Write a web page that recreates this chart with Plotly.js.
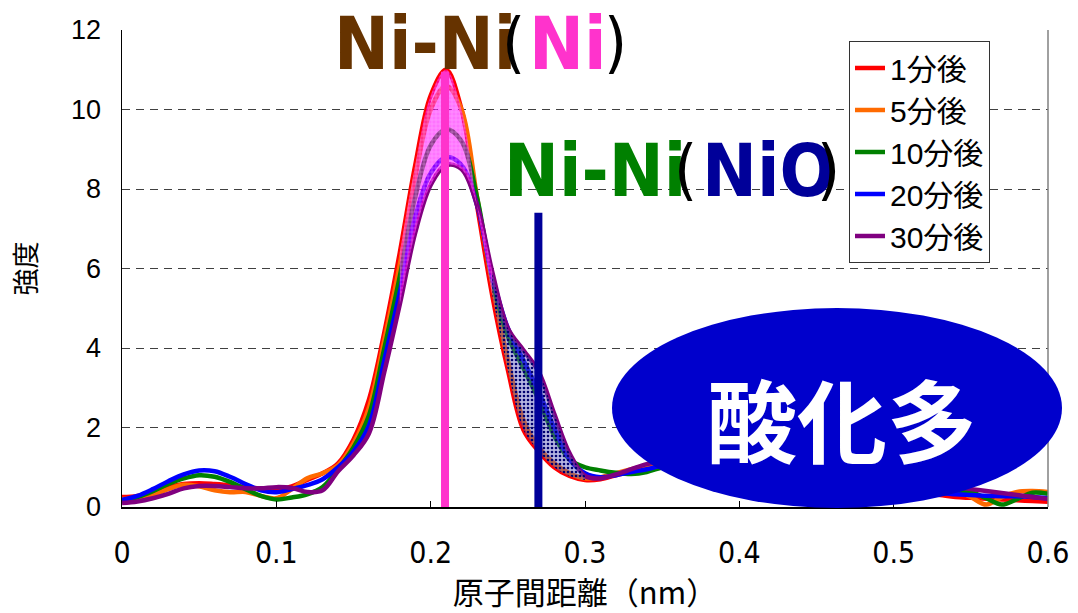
<!DOCTYPE html>
<html>
<head>
<meta charset="utf-8">
<script src="https://cdn.plot.ly/plotly-3.0.1.min.js"></script>
<style>html,body{margin:0;padding:0;background:#fff;}</style>
</head>
<body>
<div id="chart" style="width:1078px;height:613px;"></div>
<script>
// ---- data ----
const distance = [0, 0.01, 0.02, 0.03, 0.04, 0.05, 0.06, 0.07, 0.08, 0.09, 0.10, 0.11, 0.12, 0.13, 0.14, 0.15, 0.16, 0.17, 0.18, 0.19, 0.20, 0.21, 0.22, 0.23, 0.24, 0.25, 0.26, 0.27, 0.28, 0.29, 0.30, 0.31, 0.32, 0.33, 0.34, 0.35, 0.37, 0.39, 0.41, 0.43, 0.45, 0.47, 0.49, 0.51, 0.53, 0.54, 0.55, 0.56, 0.57, 0.58, 0.59, 0.60];
const min1  = [0.25, 0.28, 0.38, 0.50, 0.58, 0.60, 0.58, 0.55, 0.50, 0.46, 0.43, 0.52, 0.68, 0.85, 1.10, 1.70, 2.70, 4.40, 6.40, 8.60, 10.35, 11.0, 10.0, 7.6, 5.3, 3.45, 1.95, 1.40, 1.00, 0.78, 0.68, 0.70, 0.80, 0.90, 1.00, 1.10, 1.30, 1.50, 1.60, 1.50, 1.20, 0.90, 0.60, 0.40, 0.30, 0.25, 0.23, 0.21, 0.19, 0.17, 0.15, 0.13];
const min5  = [0.20, 0.22, 0.30, 0.45, 0.56, 0.52, 0.42, 0.37, 0.38, 0.28, 0.22, 0.45, 0.72, 0.85, 1.05, 1.60, 2.50, 4.20, 6.10, 8.30, 10.0, 10.6, 10.0, 7.8, 5.6, 3.70, 2.20, 1.50, 1.10, 0.85, 0.72, 0.75, 0.85, 0.95, 1.05, 1.12, 1.30, 1.45, 1.50, 1.40, 1.15, 0.90, 0.70, 0.55, 0.45, 0.42, 0.25, 0.06, 0.25, 0.38, 0.40, 0.38];
const min10 = [0.15, 0.25, 0.40, 0.58, 0.72, 0.80, 0.76, 0.63, 0.45, 0.28, 0.19, 0.24, 0.32, 0.50, 0.95, 1.50, 2.30, 4.00, 5.80, 7.80, 9.1, 9.5, 9.2, 7.8, 5.7, 4.30, 3.50, 2.70, 1.80, 1.20, 1.00, 0.92, 0.86, 0.83, 0.88, 1.00, 1.20, 1.35, 1.40, 1.30, 1.10, 0.85, 0.65, 0.50, 0.42, 0.40, 0.38, 0.22, 0.06, 0.20, 0.36, 0.33];
const min20 = [0.18, 0.28, 0.45, 0.65, 0.82, 0.92, 0.90, 0.76, 0.58, 0.42, 0.37, 0.45, 0.55, 0.70, 1.00, 1.40, 2.05, 3.70, 5.40, 7.30, 8.4, 8.8, 8.6, 7.6, 5.8, 4.50, 3.70, 2.90, 2.00, 1.20, 0.85, 0.75, 0.80, 0.88, 0.95, 1.05, 1.25, 1.40, 1.45, 1.35, 1.10, 0.85, 0.60, 0.45, 0.35, 0.32, 0.30, 0.28, 0.27, 0.27, 0.25, 0.22];
const min30 = [0.10, 0.14, 0.22, 0.33, 0.47, 0.53, 0.53, 0.50, 0.47, 0.47, 0.50, 0.48, 0.38, 0.42, 0.90, 1.30, 1.85, 3.40, 5.10, 6.90, 8.1, 8.6, 8.5, 7.6, 5.9, 4.50, 3.95, 3.40, 2.35, 1.35, 0.78, 0.72, 0.82, 0.95, 1.08, 1.15, 1.30, 1.45, 1.50, 1.40, 1.20, 0.95, 0.75, 0.62, 0.55, 0.50, 0.45, 0.40, 0.35, 0.30, 0.25, 0.20];
const seriesNames = ['1分後', '5分後', '10分後', '20分後', '30分後'];
const seriesValues = [min1, min5, min10, min20, min30];
const seriesColors = ['#ff0000', '#ff6a00', '#008000', '#0000ff', '#800080'];
const xTickVals = [0, 0.1, 0.2, 0.3, 0.4, 0.5, 0.6];
const xTickText = ['0', '0.1', '0.2', '0.3', '0.4', '0.5', '0.6'];
const yTickVals = [0, 2, 4, 6, 8, 10, 12];
// reference marker lines (bond positions)
const niBondX = [0.2093, 0.2093];
const niBondY = [0, 10.95];
const nioBondX = [0.2698, 0.2698];
const nioBondY = [0, 7.4];
// shaded ranges
const peakRange = [0.18, 0.24];
const shoulderRange = [0.24, 0.30];

function subset(arr, range) {
  const out = [];
  distance.forEach((d, i) => { if (d >= range[0] - 1e-9 && d <= range[1] + 1e-9) out.push(arr[i]); });
  return out;
}

const traces = [];
seriesValues.forEach((vals, i) => {
  traces.push({
    x: distance, y: vals, type: 'scatter', mode: 'lines',
    name: seriesNames[i], legendgroup: 'g' + i,
    line: {color: seriesColors[i], width: 4.5, shape: 'spline', smoothing: 1},
    hoverinfo: 'skip'
  });
});
// magenta shading around the Ni-Ni peak
traces.push({x: subset(distance, peakRange), y: subset(min30, peakRange), type: 'scatter', mode: 'lines',
  line: {width: 0, shape: 'spline'}, showlegend: false, hoverinfo: 'skip'});
traces.push({x: subset(distance, peakRange), y: subset(min1, peakRange), type: 'scatter', mode: 'lines',
  line: {width: 0, shape: 'spline'}, fill: 'tonexty', fillcolor: 'rgba(255,0,255,0.6)',
  fillpattern: {shape: '+', fgcolor: 'rgba(255,190,255,0.6)', bgcolor: 'rgba(255,0,255,0.55)', size: 4, solidity: 0.25},
  showlegend: false, hoverinfo: 'skip'});
// blue hatched shoulder
traces.push({x: subset(distance, shoulderRange), y: subset(min1, shoulderRange), type: 'scatter', mode: 'lines',
  line: {width: 0, shape: 'spline'}, showlegend: false, hoverinfo: 'skip'});
traces.push({x: subset(distance, shoulderRange), y: subset(min30, shoulderRange), type: 'scatter', mode: 'lines',
  line: {width: 0, shape: 'spline'}, fill: 'tonexty', fillcolor: 'rgba(60,60,170,0.45)',
  fillpattern: {shape: '.', fgcolor: '#000070', bgcolor: 'rgba(90,90,190,0.45)', size: 4, solidity: 0.35},
  showlegend: false, hoverinfo: 'skip'});
// bond marker lines
traces.push({x: niBondX, y: niBondY, type: 'scatter', mode: 'lines', line: {color: '#ff33cc', width: 8},
  showlegend: false, hoverinfo: 'skip'});
traces.push({x: nioBondX, y: nioBondY, type: 'scatter', mode: 'lines', line: {color: '#000099', width: 8},
  showlegend: false, hoverinfo: 'skip'});

const L = 122, PW = 926, T = 30, PH = 477;
const px = v => (v - L) / PW;
const py = v => (T + PH - v) / PH;

const narrow = 'Liberation Sans Narrow, DejaVu Sans Condensed, Arial Narrow, sans-serif';
const cjk = 'Noto Sans CJK JP, sans-serif';

function label(text, x, y, anchor, color, size, weight) {
  return {text: text, xref: 'paper', yref: 'paper', x: px(x), y: py(y), xanchor: anchor, yanchor: 'middle',
    borderpad: 0, showarrow: false, font: {family: narrow, size: size, color: color, weight: weight}};
}

const layout = {
  width: 1078, height: 613,
  margin: {l: L, r: 1078 - L - PW, t: T, b: 613 - T - PH, pad: 0},
  paper_bgcolor: '#ffffff', plot_bgcolor: '#ffffff',
  showlegend: true,
  legend: {
    x: px(849), y: py(41), xanchor: 'left', yanchor: 'top',
    bgcolor: '#ffffff', bordercolor: '#333333', borderwidth: 1,
    font: {family: 'Liberation Sans, Noto Sans CJK JP, sans-serif', size: 30, color: '#000'},
    traceorder: 'grouped', tracegroupgap: 0, itemwidth: 30
  },
  xaxis: {
    range: [0, 0.6], tickvals: xTickVals, ticktext: xTickText,
    showline: true, linecolor: '#000', linewidth: 2, mirror: false,
    showgrid: false, zeroline: false,
    ticks: 'inside', ticklen: 6, tickcolor: '#000', tickwidth: 1,
    tickfont: {family: narrow, size: 30, color: '#000'}, ticklabelstandoff: 18,
    title: {text: '原子間距離（nm）', font: {family: cjk, size: 31, color: '#000'}, standoff: 12}
  },
  yaxis: {
    range: [0, 12], tickvals: yTickVals,
    showline: true, linecolor: '#000', linewidth: 1.5,
    showgrid: true, gridcolor: '#404040', gridwidth: 1, griddash: '8px,6px',
    zeroline: false, ticks: '',
    tickfont: {family: 'Liberation Sans, Arial, sans-serif', size: 27, color: '#000'}, ticklabelstandoff: 14,
    title: {text: '強度', font: {family: cjk, size: 27, color: '#000'}, standoff: 26}
  },
  shapes: [
    {type: 'line', xref: 'paper', yref: 'paper', x0: 1, x1: 1, y0: 0, y1: 1, line: {color: '#808080', width: 1.5}},
    {type: 'circle', xref: 'paper', yref: 'paper', layer: 'above',
     x0: px(612), x1: px(1062), y0: py(508), y1: py(308), fillcolor: '#0000cc', line: {width: 0}}
  ],
  annotations: [
    {text: '酸化多', xref: 'paper', yref: 'paper', x: px(842), y: py(417), xanchor: 'center', yanchor: 'middle',
     showarrow: false, font: {family: cjk, size: 90, color: '#ffffff', weight: 'bold'}},
    // Ni-Ni(Ni)
    label('Ni-Ni', 333, 43, 'left', '#663300', 73, 'bold'),
    label('(', 513, 42, 'center', '#000000', 66, 'normal'),
    label('Ni', 528, 43, 'left', '#ff33cc', 73, 'bold'),
    label(')', 615, 42, 'center', '#000000', 66, 'normal'),
    // Ni-Ni(NiO)
    label('Ni-Ni', 503, 170, 'left', '#008000', 73, 'bold'),
    label('(', 685, 169, 'center', '#000000', 66, 'normal'),
    label('NiO', 701, 170, 'left', '#000099', 73, 'bold'),
    label(')', 828, 169, 'center', '#000000', 66, 'normal')
  ]
};

Plotly.newPlot('chart', traces, layout, {staticPlot: true, displayModeBar: false});
</script>
</body>
</html>
